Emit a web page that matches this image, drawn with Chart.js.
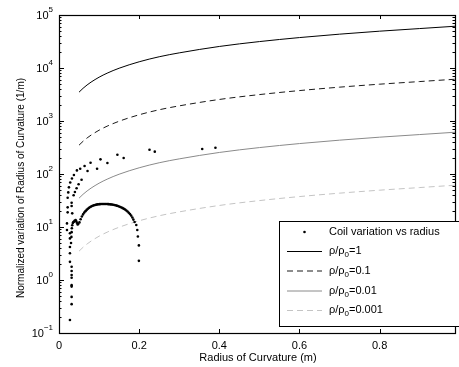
<!DOCTYPE html>
<html>
<head>
<meta charset="utf-8">
<script src="https://cdn.jsdelivr.net/npm/chart.js@4.4.1/dist/chart.umd.min.js"></script>
<style>
  html, body { margin: 0; padding: 0; background: #fff; }
  canvas { display: block; }
</style>
</head>
<body>
<canvas id="curvChart" width="459" height="367"></canvas>
<script>
// radius values (m) where the reference curves were read
const radiusX = [0.05, 0.06, 0.07, 0.08, 0.1, 0.12, 0.15, 0.2, 0.25, 0.3, 0.4, 0.5, 0.6, 0.7, 0.8, 0.9, 0.99]
const rhoRatio1 = [3500, 4140, 4780, 5420, 6700, 7980, 9900, 13100, 16300, 19300, 25500, 31500, 37500, 43500, 49500, 55500, 61500]
const rhoRatio01 = [350, 414, 478, 542, 670, 798, 990, 1310, 1630, 1930, 2550, 3150, 3750, 4350, 4950, 5550, 6150]
const rhoRatio001 = [35, 41.4, 47.8, 54.2, 67, 79.8, 99, 131, 163, 193, 255, 315, 375, 435, 495, 555, 615]
const rhoRatio0001 = [3.5, 4.14, 4.78, 5.42, 6.7, 7.98, 9.9, 13.1, 16.3, 19.3, 25.5, 31.5, 37.5, 43.5, 49.5, 55.5, 61.5]

// coil points: two upper arcs, the low column and the dense arc
const coilX = [
  0.0199, 0.0199, 0.0216, 0.0216, 0.0216, 0.0231, 0.0248, 0.028, 0.0323, 0.0372, 0.0447, 0.0529,
  0.0638, 0.0787, 0.1035, 0.1457, 0.2258, 0.3573,
  0.0315, 0.033, 0.0315, 0.0365, 0.0397, 0.0439, 0.0489, 0.0563, 0.0712, 0.095, 0.1208, 0.1613,
  0.239, 0.3903,
  0.0273, 0.0315, 0.0315, 0.0315, 0.0315, 0.0315, 0.0315, 0.0315, 0.0315, 0.0273, 0.0273, 0.0273,
  0.0273, 0.0273, 0.0300, 0.0310, 0.0315, 0.0320, 0.0330, 0.0345, 0.0360, 0.0372, 0.0390, 0.0414,
  0.0430, 0.0445, 0.0464, 0.048, 0.051, 0.054, 0.057, 0.060, 0.063, 0.066, 0.069, 0.072, 0.075,
  0.078, 0.081, 0.084, 0.087, 0.090, 0.093, 0.096, 0.099, 0.102, 0.105, 0.108, 0.111, 0.114,
  0.117, 0.120, 0.123, 0.126, 0.129, 0.132, 0.135, 0.138, 0.141, 0.144, 0.147, 0.150, 0.153,
  0.156, 0.159, 0.162, 0.165, 0.168, 0.171, 0.174, 0.177, 0.180, 0.183, 0.1855, 0.1886, 0.1928,
  0.1953, 0.1968, 0.1993, 0.1993
]
const coilY = [
  8.8, 11.7, 18.9, 23.5, 35.7, 45, 56, 69, 82, 96, 117, 126,
  142, 163, 189, 231, 287, 296,
  24.9, 18.1, 28.7, 39.6, 45.7, 53.7, 64, 78, 114, 126, 161, 200,
  264, 313,
  0.176, 0.35, 0.48, 0.75, 0.8, 1.1, 1.24, 1.48, 1.78, 2.2, 3.2, 4.2,
  6.1, 7.6, 5.0, 6.5, 8.0, 9.5, 10.8, 11.9, 12.4, 12.6, 13.1, 13.5,
  12.9, 12.0, 11.2, 11.4, 12.2, 14.0, 15.8, 17.3, 18.7, 19.9, 21.0, 22.0, 23.0,
  23.8, 24.5, 25.1, 25.6, 26.0, 26.4, 26.7, 26.9, 27.0, 27.1, 27.2, 27.2, 27.2,
  27.2, 27.1, 27.0, 26.9, 26.7, 26.5, 26.3, 26.0, 25.7, 25.3, 24.9, 24.4, 23.9,
  23.3, 22.7, 22.0, 21.3, 20.5, 19.6, 18.6, 17.6, 16.4, 15.1, 13.8, 12.4, 10.9,
  8.8, 6.6, 4.5, 2.3
]

const xTicks = [0, 0.2, 0.4, 0.6, 0.8]
const yExponents = [-1, 0, 1, 2, 3, 4, 5]

const legendLabels = ['Coil variation vs radius', '1', '0.1', '0.01', '0.001']

const FONT = '"Liberation Sans", Arial, sans-serif'

function pts(xs, ys) {
  return xs.map((x, i) => ({ x: x, y: ys[i] }))
}

const lineStyles = [
  { color: '#000000', dash: [] },
  { color: '#1a1a1a', dash: [6, 4] },
  { color: '#8a8a8a', dash: [] },
  { color: '#c4c4c4', dash: [6, 4] }
]

// axes box, inward ticks, tick labels, titles and legend
const matlabAxes = {
  id: 'matlabAxes',
  afterDraw(chart) {
    const ctx = chart.ctx
    const a = chart.chartArea
    const xs = chart.scales.x
    const ys = chart.scales.y
    ctx.save()
    ctx.strokeStyle = '#000'
    ctx.lineWidth = 1
    ctx.fillStyle = '#000'

    // ticks
    ctx.beginPath()
    xTicks.forEach(v => {
      const px = Math.round(xs.getPixelForValue(v)) + 0.5
      ctx.moveTo(px, a.bottom); ctx.lineTo(px, a.bottom - 4)
      ctx.moveTo(px, a.top); ctx.lineTo(px, a.top + 4)
    })
    yExponents.forEach(e => {
      const py = Math.round(ys.getPixelForValue(Math.pow(10, e))) + 0.5
      ctx.moveTo(a.left, py); ctx.lineTo(a.left + 5, py)
      ctx.moveTo(a.right, py); ctx.lineTo(a.right - 5, py)
      if (e < 5) {
        for (let m = 2; m <= 9; m++) {
          const my = Math.round(ys.getPixelForValue(m * Math.pow(10, e))) + 0.5
          ctx.moveTo(a.left, my); ctx.lineTo(a.left + 2.5, my)
          ctx.moveTo(a.right, my); ctx.lineTo(a.right - 2.5, my)
        }
      }
    })
    ctx.stroke()

    // box
    ctx.lineWidth = 1.2
    ctx.strokeRect(Math.round(a.left) + 0.5, Math.round(a.top) + 0.5,
      Math.round(a.right - a.left), Math.round(a.bottom - a.top))

    // x tick labels
    ctx.font = '11px ' + FONT
    ctx.textAlign = 'center'
    ctx.textBaseline = 'middle'
    xTicks.forEach(v => {
      ctx.fillText(String(v), xs.getPixelForValue(v), a.bottom + 13)
    })
    ctx.fillText('Radius of Curvature (m)', (a.left + a.right) / 2 + 1, a.bottom + 25)

    // y tick labels 10^n
    yExponents.forEach(e => {
      const py = ys.getPixelForValue(Math.pow(10, e))
      const sup = e < 0 ? '\u2212' + Math.abs(e) : String(e)
      ctx.font = '8px ' + FONT
      const w2 = ctx.measureText(sup).width
      ctx.font = '11px ' + FONT
      const w1 = ctx.measureText('10').width
      const right = a.left - 6
      ctx.textAlign = 'left'
      ctx.fillText('10', right - w2 - w1, py + 1)
      ctx.font = '8px ' + FONT
      ctx.fillText(sup, right - w2, py - 5)
    })

    // y title
    ctx.save()
    ctx.translate(21, 188)
    ctx.rotate(-Math.PI / 2)
    ctx.font = '10px ' + FONT
    ctx.textAlign = 'center'
    ctx.fillText('Normalized variation of Radius of Curvature (1/m)', 0, 0)
    ctx.restore()

    // legend
    const lx = 279.5, ly = 221.5, lw = 180, lh = 105
    ctx.fillStyle = '#fff'
    ctx.fillRect(lx, ly, lw, lh)
    ctx.strokeStyle = '#000'
    ctx.lineWidth = 1
    ctx.strokeRect(lx, ly, lw, lh)
    const rows = [232, 251, 270.5, 290.5, 310]
    ctx.fillStyle = '#000'
    ctx.beginPath()
    ctx.arc(304.5, rows[0], 1.3, 0, Math.PI * 2)
    ctx.fill()
    ctx.textAlign = 'left'
    ctx.textBaseline = 'middle'
    ctx.font = '11px ' + FONT
    ctx.fillText(legendLabels[0], 329, rows[0])
    for (let i = 1; i < legendLabels.length; i++) {
      const st = lineStyles[i - 1]
      ctx.strokeStyle = st.color
      ctx.setLineDash(st.dash)
      ctx.beginPath()
      ctx.moveTo(287, rows[i] + 0.5)
      ctx.lineTo(322, rows[i] + 0.5)
      ctx.stroke()
      ctx.setLineDash([])
      let tx = 329
      ctx.font = '11px ' + FONT
      ctx.fillText('\u03c1/\u03c1', tx, rows[i])
      tx += ctx.measureText('\u03c1/\u03c1').width
      ctx.font = '8px ' + FONT
      ctx.fillText('0', tx, rows[i] + 4)
      tx += ctx.measureText('0').width
      ctx.font = '11px ' + FONT
      ctx.fillText('=' + legendLabels[i], tx, rows[i])
    }
    ctx.restore()
  }
}

const lineSets = [rhoRatio1, rhoRatio01, rhoRatio001, rhoRatio0001].map((vals, i) => ({
  label: 'rho/rho0=' + legendLabels[i + 1],
  data: pts(radiusX, vals),
  showLine: true,
  borderColor: lineStyles[i].color,
  borderDash: lineStyles[i].dash,
  borderWidth: 1,
  pointRadius: 0,
  cubicInterpolationMode: 'monotone'
}))

new Chart(document.getElementById('curvChart'), {
  type: 'scatter',
  data: {
    datasets: [
      {
        label: 'Coil variation vs radius',
        data: pts(coilX, coilY),
        pointRadius: 1.3,
        pointBorderWidth: 0,
        backgroundColor: '#000',
        borderColor: '#000'
      },
      ...lineSets
    ]
  },
  options: {
    responsive: false,
    animation: false,
    devicePixelRatio: 1,
    layout: { padding: { left: 59, right: 2, top: 15, bottom: 34 } },
    plugins: { legend: { display: false }, tooltip: { enabled: false } },
    scales: {
      x: { type: 'linear', display: false, min: 0, max: 0.988 },
      y: { type: 'logarithmic', display: false, min: 0.1, max: 100000 }
    }
  },
  plugins: [matlabAxes]
})
</script>
</body>
</html>
